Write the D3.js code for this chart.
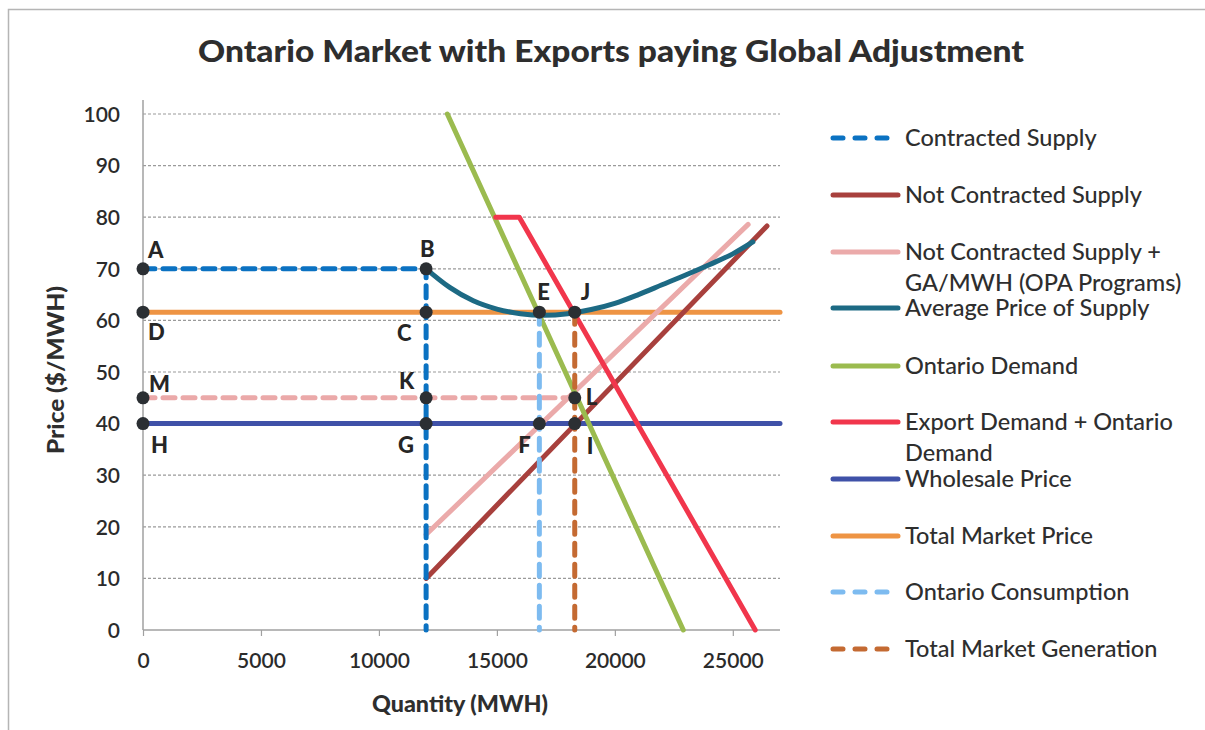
<!DOCTYPE html>
<html>
<head>
<meta charset="utf-8">
<script src="https://cdn.jsdelivr.net/npm/d3@7"></script>
<style>
  html, body { margin: 0; padding: 0; background: #fff; }
  svg { display: block; }
</style>
</head>
<body>
<svg id="chart" width="1205" height="730"></svg>
<script>
// ---- data ----
const title = "Ontario Market with Exports paying Global Adjustment";
const xTicks = [0, 5000, 10000, 15000, 20000, 25000];
const yTicks = [0, 10, 20, 30, 40, 50, 60, 70, 80, 90, 100];

const contractedSupply = [[0, 70], [12000, 70], [12000, 0]];
const notContractedSupply = [[12000, 10], [26450, 78.3]];
const notContractedPlusGA = [[12000, 18.5], [25650, 78.6]];
const averagePrice = [[12000, 70], [13000, 66.4], [14000, 63.8], [15000, 62.2], [16000, 61.3],
  [17000, 61.0], [18000, 61.3], [19000, 62.1], [20000, 63.3], [21000, 65.0], [22000, 66.9],
  [23000, 68.8], [24000, 70.8], [25000, 72.9], [25850, 75.2]];
const ontarioDemand = [[12900, 100], [22900, 0]];
const exportPlusOntario = [[14950, 80], [15950, 80], [25950, 0]];
const wholesalePrice = [[0, 40], [27000, 40]];
const totalMarketPrice = [[0, 61.6], [27000, 61.6]];
const ontarioConsumption = [[16800, 61.6], [16800, 0]];
const totalGeneration = [[18300, 61.6], [18300, 0]];
const gaPriceLine = [[0, 45], [18300, 45]];

const pointNames = ["A", "B", "D", "C", "E", "J", "M", "K", "L", "H", "G", "F", "I"];
const pointX =     [0, 12000, 0, 12000, 16800, 18300, 0, 12000, 18300, 0, 12000, 16800, 18300];
const pointY =     [70, 70, 61.6, 61.6, 61.6, 61.6, 45, 45, 45, 40, 40, 40, 40];

const legendNames = ["Contracted Supply", "Not Contracted Supply",
  "Not Contracted Supply +\nGA/MWH (OPA Programs)", "Average Price of Supply",
  "Ontario Demand", "Export Demand + Ontario\nDemand", "Wholesale Price",
  "Total Market Price", "Ontario Consumption", "Total Market Generation"];

// ---- styles ----
const FONT = "Lato, 'Open Sans', sans-serif";
const series = [
  { data: wholesalePrice, color: "#3F51A8", dash: null, legend: 6 },
  { data: totalMarketPrice, color: "#EE9444", dash: null, legend: 7 },
  { data: gaPriceLine, color: "#EBA9A9", dash: "12 8", legend: null },
  { data: notContractedSupply, color: "#A8403D", dash: null, legend: 1 },
  { data: notContractedPlusGA, color: "#EBAAAA", dash: null, legend: 2 },
  { data: averagePrice, color: "#1D6A84", dash: null, legend: 3, curve: true },
  { data: ontarioDemand, color: "#9BBB4F", dash: null, legend: 4 },
  { data: exportPlusOntario, color: "#F1364C", dash: null, legend: 5 },
  { data: contractedSupply, color: "#0B72C2", dash: "12 8", legend: 0 },
  { data: ontarioConsumption, color: "#7DBBF0", dash: "12 9", legend: 8 },
  { data: totalGeneration, color: "#C46A32", dash: "12 9", legend: 9 }
];

const svg = d3.select("#chart");
const plot = { left: 143, right: 780, top: 114, bottom: 630 };
const x = d3.scaleLinear().domain([0, 27000]).range([plot.left, plot.right]);
const y = d3.scaleLinear().domain([0, 100]).range([plot.bottom, plot.top]);

// outer frame
svg.append("rect").attr("x", 8.5).attr("y", 9.5).attr("width", 1200).attr("height", 730)
  .attr("fill", "none").attr("stroke", "#b5b5b5").attr("stroke-width", 1.5);

// title
svg.append("text").attr("x", 611).attr("y", 62).attr("text-anchor", "middle")
  .attr("font-family", FONT).attr("font-weight", 900)
  .attr("font-size", 31).attr("fill", "#2e2e2e")
  .attr("textLength", 826).attr("lengthAdjust", "spacingAndGlyphs").text(title);

// gridlines
svg.append("g").selectAll("line").data(yTicks.filter(d => d > 0)).join("line")
  .attr("x1", x(0)).attr("x2", x(27000))
  .attr("y1", d => y(d)).attr("y2", d => y(d))
  .attr("stroke", "#9a9a9a").attr("stroke-width", 1.2).attr("stroke-dasharray", "3 2");

// axes
const yAxis = d3.axisLeft(y).tickValues(yTicks).tickSize(0).tickPadding(23);
const gy = svg.append("g").attr("transform", `translate(${x(0)},0)`).call(yAxis);
gy.select(".domain").attr("stroke", "#a0a0a0").attr("stroke-width", 1.5)
  .attr("d", `M0,${y(0)}V${y(100) - 14}`);
gy.selectAll("text").attr("font-family", FONT).attr("font-weight", 600)
  .attr("font-size", 21).attr("fill", "#2b2b2b").attr("dy", "0.35em");

const xAxis = d3.axisBottom(x).tickValues(xTicks).tickSize(6).tickPadding(17).tickFormat(d3.format("d"));
const gx = svg.append("g").attr("transform", `translate(0,${y(0)})`).call(xAxis);
gx.select(".domain").attr("stroke", "#a0a0a0").attr("stroke-width", 1.5)
  .attr("d", `M${x(0)},0H${x(27000)}`);
gx.selectAll(".tick line").attr("stroke", "#a0a0a0").attr("stroke-width", 1.2);
gx.selectAll("text").attr("font-family", FONT).attr("font-weight", 600)
  .attr("font-size", 21).attr("fill", "#2b2b2b");

// axis titles
svg.append("text").attr("transform", "translate(64,370) rotate(-90)")
  .attr("text-anchor", "middle").attr("font-family", FONT)
  .attr("font-weight", 900).attr("font-size", 22).attr("fill", "#2e2e2e")
  .attr("textLength", 168).attr("lengthAdjust", "spacingAndGlyphs").text("Price ($/MWH)");
svg.append("text").attr("x", 460).attr("y", 712).attr("text-anchor", "middle")
  .attr("font-family", FONT).attr("font-weight", 900)
  .attr("font-size", 22).attr("fill", "#2e2e2e")
  .attr("textLength", 176).attr("lengthAdjust", "spacingAndGlyphs").text("Quantity (MWH)");

// series lines
const lineGen = d3.line().x(d => x(d[0])).y(d => y(d[1]));
const curveGen = d3.line().x(d => x(d[0])).y(d => y(d[1])).curve(d3.curveMonotoneX);
const gl = svg.append("g");
series.forEach(s => {
  gl.append("path").attr("d", (s.curve ? curveGen : lineGen)(s.data))
    .attr("fill", "none").attr("stroke", s.color).attr("stroke-width", 5)
    .attr("stroke-linecap", "round").attr("stroke-linejoin", "round")
    .attr("stroke-dasharray", s.dash);
});

// marked points
const labelOffset = {
  A: [5, -19], B: [-6, -20], D: [5, 20], C: [-29, 21], E: [-2, -20], J: [6, -20],
  M: [6, -14], K: [-27, -17], L: [11, -1], H: [8, 22], G: [-28, 22], F: [-21, 22], I: [12, 23]
};
const pts = pointNames.map((n, i) => ({ name: n, x: pointX[i], y: pointY[i] }));
const gp = svg.append("g");
gp.selectAll("circle").data(pts).join("circle")
  .attr("cx", d => x(d.x)).attr("cy", d => y(d.y)).attr("r", 6.5)
  .attr("fill", "#2b2f33");
gp.selectAll("text").data(pts).join("text")
  .attr("x", d => x(d.x) + labelOffset[d.name][0])
  .attr("y", d => y(d.y) + labelOffset[d.name][1])
  .attr("dy", "0.35em")
  .attr("font-family", FONT).attr("font-weight", 900)
  .attr("font-size", 22).attr("fill", "#262626").text(d => d.name);

// legend
const legendY = [138, 195, 252, 308, 366, 422, 479, 536, 592, 649];
const gleg = svg.append("g");
legendNames.forEach((name, i) => {
  const s = series.find(t => t.legend === i);
  const yy = legendY[i];
  gleg.append("line").attr("x1", 833).attr("x2", 898).attr("y1", yy).attr("y2", yy)
    .attr("stroke", s.color).attr("stroke-width", 5).attr("stroke-linecap", "round")
    .attr("stroke-dasharray", s.dash ? "10 12" : null);
  const lines = name.split("\n");
  const t = gleg.append("text").attr("x", 905).attr("y", yy)
    .attr("font-family", FONT).attr("font-weight", 500).attr("font-size", 23.5)
    .attr("fill", "#2e2e2e");
  lines.forEach((ln, j) => {
    t.append("tspan").attr("x", 905).attr("dy", j === 0 ? "0.35em" : "1.3em").text(ln);
  });
});
</script>
</body>
</html>
